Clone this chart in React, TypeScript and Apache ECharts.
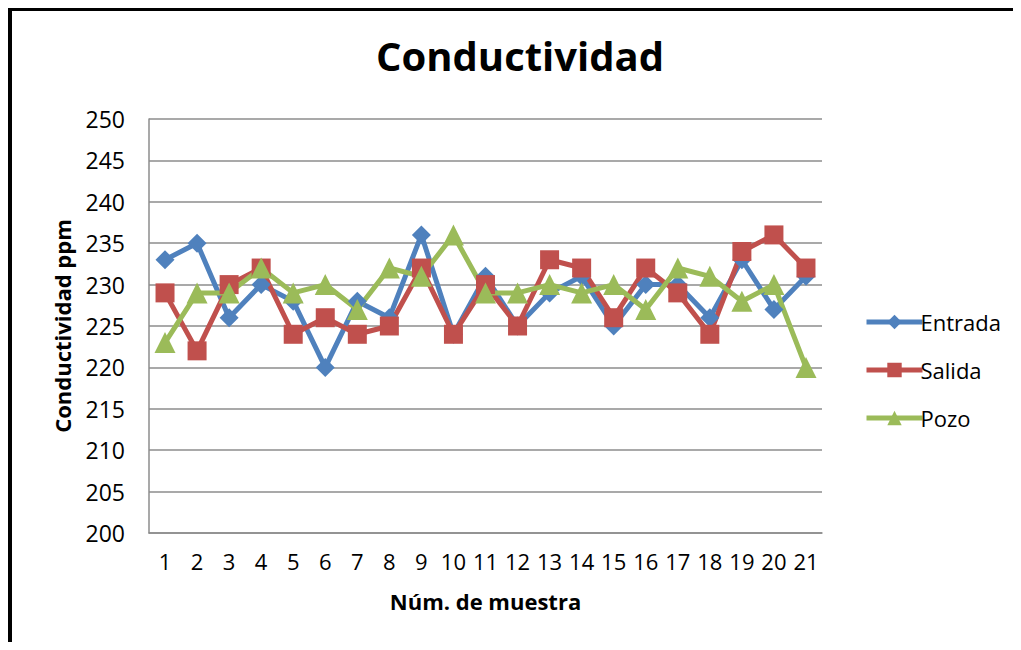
import React, { useEffect, useRef } from "react";
import * as echarts from "echarts";

const categories = ["1","2","3","4","5","6","7","8","9","10","11","12","13","14","15","16","17","18","19","20","21"];
const entrada = [233,235,226,230,228,220,228,226,236,224,231,225,229,231,225,230,230,226,233,227,231];
const salida = [229,222,230,232,224,226,224,225,232,224,230,225,233,232,226,232,229,224,234,236,232];
const pozo = [223,229,229,232,229,230,227,232,231,236,229,229,230,229,230,227,232,231,228,230,220];
const yMin = 200;
const yMax = 250;
const yStep = 5;

const FONT = "Open Sans";

export default function App() {
  const ref = useRef<HTMLDivElement>(null);
  useEffect(() => {
    const chart = echarts.init(ref.current!, null, { renderer: "svg" });
    const mk = (name: string, data: number[], color: string, symbol: string, size: number) => ({
      name,
      type: "line",
      data,
      symbol,
      symbolSize: size,
      showSymbol: true,
      lineStyle: { color, width: 5 },
      itemStyle: { color, borderWidth: 0 },
      emphasis: { disabled: true },
    });
    chart.setOption({
      animation: false,
      textStyle: { fontFamily: FONT },
      title: {
        text: "Conductividad",
        left: 507,
        textAlign: "center",
        top: 22,
        textStyle: { fontFamily: FONT, fontSize: 40, fontWeight: "bold", color: "#000" },
      },
      graphic: [
        { type: "rect", left: 0, top: 0, shape: { width: 4, height: 634 }, style: { fill: "#000" } },
        { type: "rect", left: 0, top: 0, shape: { width: 1005, height: 3 }, style: { fill: "#000" } },
      ],
      legend: {
        orient: "vertical",
        left: 851,
        top: 298,
        itemWidth: 56,
        itemHeight: 18,
        itemGap: 26,
        lineStyle: { width: 5 },
        textStyle: { fontFamily: FONT, fontSize: 22, color: "#000", padding: [0, 0, 0, -7] },
        data: ["Entrada", "Salida", "Pozo"],
      },
      grid: { left: 141, top: 111, right: 191, bottom: 109, containLabel: false },
      xAxis: {
        type: "category",
        data: categories,
        boundaryGap: true,
        name: "Núm. de muestra",
        nameLocation: "middle",
        nameGap: 57,
        nameTextStyle: { fontFamily: FONT, fontSize: 22, fontWeight: "bold", color: "#000" },
        axisLine: { lineStyle: { color: "#8c8c8c", width: 1.5 } },
        axisTick: { show: false },
        axisLabel: { fontFamily: FONT, fontSize: 22, color: "#000", margin: 17, interval: 0 },
      },
      yAxis: {
        type: "value",
        min: yMin,
        max: yMax,
        interval: yStep,
        name: "Conductividad ppm",
        nameLocation: "middle",
        nameGap: 76,
        nameTextStyle: { fontFamily: FONT, fontSize: 22, fontWeight: "bold", color: "#000" },
        axisLine: { show: true, lineStyle: { color: "#8c8c8c", width: 1.5 } },
        axisTick: { show: false },
        axisLabel: { fontFamily: FONT, fontSize: 23, color: "#000", margin: 24 },
        splitLine: { lineStyle: { color: "#8c8c8c", width: 1.5 } },
      },
      series: [
        mk("Entrada", entrada, "#4F81BD", "diamond", 19),
        mk("Salida", salida, "#C0504D", "rect", 19),
        mk("Pozo", pozo, "#9BBB59", "triangle", 21),
      ],
    });
    return () => chart.dispose();
  }, []);
  return <div ref={ref} style={{ width: 1005, height: 634 }} />;
}
